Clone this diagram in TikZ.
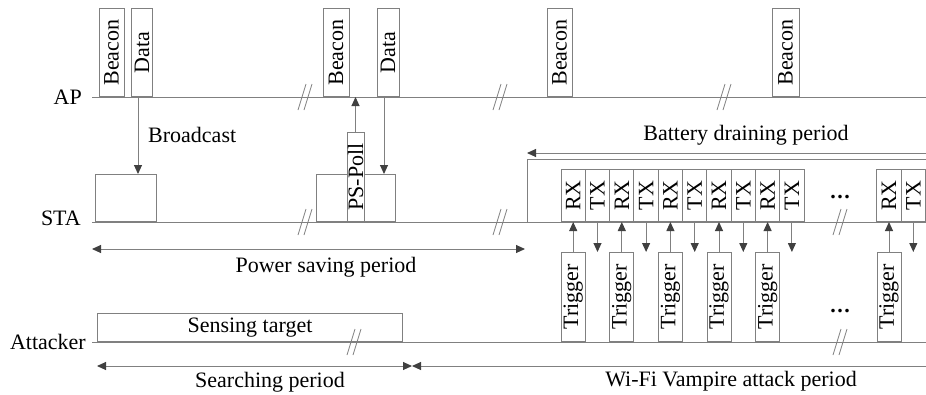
\documentclass[tikz,border=0pt]{standalone}
\usepackage{fontspec}
\setmainfont{Liberation Serif}
\usetikzlibrary{arrows.meta}

\definecolor{linegray}{RGB}{128,128,128}
\definecolor{tipgray}{RGB}{64,64,64}

\begin{document}
\begin{tikzpicture}[
    x=1pt, y=-1pt,
    font=\fontsize{22}{26}\selectfont,
    >={Triangle[length=9pt, width=8pt, color=tipgray]},
    line/.style={draw=linegray, line width=1pt},
    pkt/.style={draw=linegray, line width=1pt, fill=white, rotate=90,
                inner sep=0pt, anchor=west},
    blk/.style={draw=linegray, line width=1pt, inner sep=0pt, anchor=south west},
    arrow/.style={->, draw=linegray, line width=1pt},
    brk/.style={draw=linegray, line width=0.8pt},
    lbl/.style={inner sep=0pt}
  ]
    \useasboundingbox (0,0) rectangle (926,394);

    % Time lines
    \node[lbl, anchor=east] (ap) at (82,97) {AP};
    \node[lbl, anchor=east] (sta) at (81,218) {STA};
    \node[lbl, anchor=east] (att) at (86,342) {Attacker};
    \coordinate (ap-l) at (92,97);   \coordinate (ap-r) at (926,97);
    \coordinate (sta-l) at (92,222); \coordinate (sta-r) at (926,222);
    \coordinate (att-l) at (92,342); \coordinate (att-r) at (926,342);
    \draw[line] (ap-l) -- (ap-r);
    \draw[line] (sta-l) -- (sta-r);
    \draw[line] (att-l) -- (att-r);

    % Breaks on the time lines
    \foreach \bx/\by in {305/97, 500/97, 724/97, 305/222, 500/222, 840/222, 354/342, 840/342} {
      \draw[brk] (\bx-7,\by+13) -- (\bx+1,\by-13);
      \draw[brk] (\bx-1,\by+13) -- (\bx+7,\by-13);
    }

    % AP frames
    \node[pkt, minimum width=88pt, minimum height=25pt] (beacon1) at (111.5,97) {Beacon};
    \node[pkt, minimum width=88pt, minimum height=21pt] (data1) at (142,97) {Data};
    \node[pkt, minimum width=88pt, minimum height=26pt] (beacon2) at (336,97) {Beacon};
    \node[pkt, minimum width=88pt, minimum height=22pt] (data2) at (388,97) {Data};
    \node[pkt, minimum width=88pt, minimum height=25pt] (beacon3) at (559.5,97) {Beacon};
    \node[pkt, minimum width=88pt, minimum height=27pt] (beacon4) at (785.5,97) {Beacon};

    % STA wake-ups in power saving
    \node[blk, minimum width=61pt, minimum height=47pt] (wake1) at (95,222) {};
    \node[blk, minimum width=79pt, minimum height=47pt] (wake2) at (316,222) {};
    \node[pkt, minimum width=89pt, minimum height=17pt] (pspoll) at (355.5,222) {PS-Poll};

    \draw[arrow] ([xshift=-4pt]data1.west) -- ([xshift=-4pt]data1.west |- wake1.north);
    \node[lbl, anchor=west] (bcast) at (148,135) {Broadcast};
    \draw[arrow] (pspoll.east) -- (pspoll.east |- beacon2.west);
    \draw[arrow] ([xshift=-4pt]data2.west) -- ([xshift=-4pt]data2.west |- wake2.north);

    % Power saving period
    \coordinate (ps-l) at (92,249); \coordinate (ps-r) at (525,249);
    \draw[arrow, <->] (ps-l) -- (ps-r);
    \node (ps-text) at (326,267) {Power saving period};

    % Battery draining period
    \coordinate (bd-l) at (527,153); \coordinate (bd-r) at (926,153);
    \draw[arrow, <-] (bd-l) -- (bd-r);
    \node (bd-text) at (746,135) {Battery draining period};
    \draw[line] (527,222) -- (527,159) -- (926,159);

    % RX / TX frames and triggers
    \foreach \i/\x in {0/573.2, 1/621.8, 2/670.4, 3/719, 4/767.6, 5/889} {
      \node[pkt, minimum width=52pt, minimum height=24.3pt] (rx\i) at (\x,222) {RX};
      \node[pkt, minimum width=52pt, minimum height=24.3pt] (tx\i) at (\x+24.3,222) {TX};
      \node[pkt, minimum width=89pt, minimum height=24pt] (trig\i) at (\x,342) {Trigger};
      \draw[arrow] (trig\i.east) -- (rx\i.west);
      \draw[arrow] (tx\i.west) -- ++(0,30);
    }
    \node (dots-sta) at (840,197) {\textbf{.\hspace{1.5pt}.\hspace{1.5pt}.}};
    \node (dots-att) at (840,311) {\textbf{.\hspace{1.5pt}.\hspace{1.5pt}.}};

    % Attacker
    \node[blk, minimum width=305pt, minimum height=28pt] (sense) at (97,342) {Sensing target};
    \coordinate (search-l) at (97,366); \coordinate (search-r) at (412,366);
    \coordinate (vamp-r) at (926,366);
    \draw[arrow, <->] (search-l) -- (search-r);
    \draw[arrow, <-] (search-r) -- (vamp-r);
    \node (search-text) at (270,382) {Searching period};
    \node (vamp-text) at (731,381) {Wi-Fi Vampire attack period};

  \end{tikzpicture}
\end{document}
